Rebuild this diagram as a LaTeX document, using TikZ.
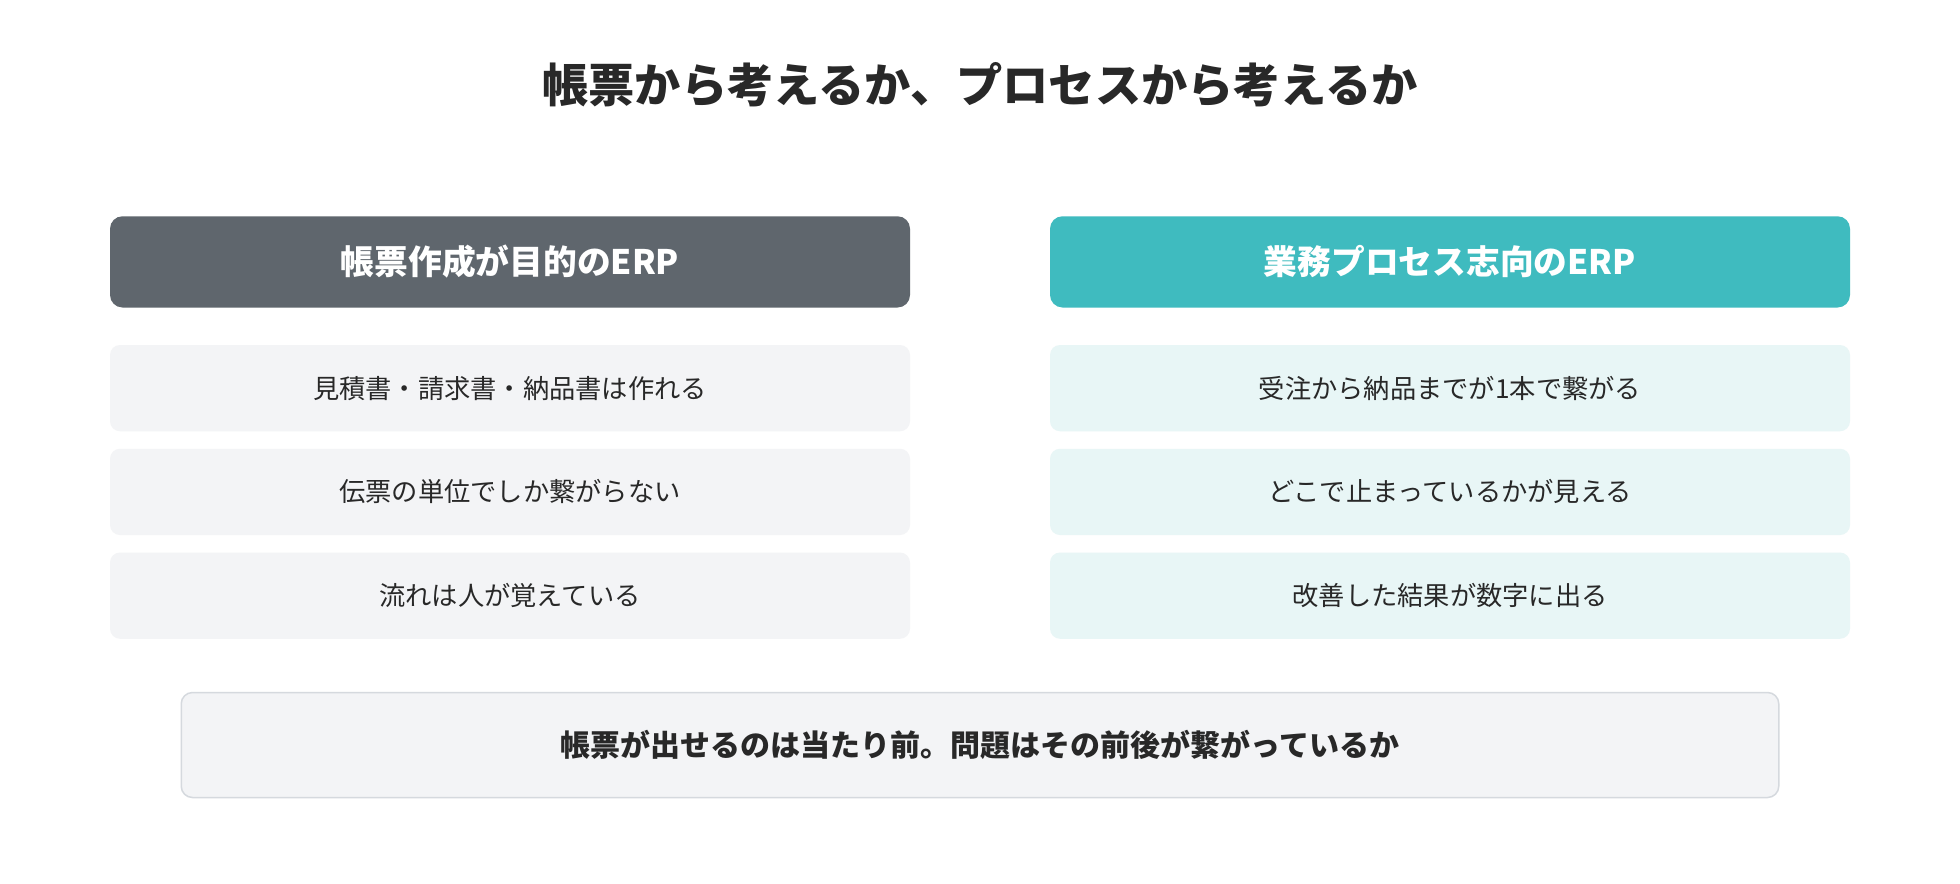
\documentclass[tikz,border=0pt]{standalone}
\usepackage{fontspec}
\setmainfont{Noto Sans CJK JP}
\definecolor{hdgray}{RGB}{95, 102, 109}
\definecolor{hdteal}{RGB}{63, 187, 191}
\definecolor{rowgray}{RGB}{243, 244, 246}
\definecolor{rowteal}{RGB}{232, 246, 246}
\definecolor{edgegray}{RGB}{213, 217, 222}
\definecolor{txt}{RGB}{40, 40, 40}
\begin{document}
\begin{tikzpicture}[x=1pt, y=-1pt,
    head/.style={rounded corners=10pt, minimum width=640pt, minimum height=73pt, text=white, font=\fontsize{27}{32}\selectfont\bfseries},
    row/.style={rounded corners=8pt, minimum width=640pt, minimum height=69pt, text=txt, font=\fontsize{21}{26}\selectfont}]
                    \useasboundingbox[fill=white] (0,0) rectangle (1568,707);
                    \node[text=txt, font=\fontsize{37}{44}\selectfont\bfseries] (title) at (784,68) {帳票から考えるか、プロセスから考えるか};
                    
                    \node[head, fill=hdgray] (L) at (408,209.5) {帳票作成が目的のERP};
                    \node[head, fill=hdteal] (R) at (1160,209.5) {業務プロセス志向のERP};
                    
                    \node[row, fill=rowgray] (L1) at (408,310.5) {見積書・請求書・納品書は作れる};
                    \node[row, fill=rowgray] (L2) at (408,393.5) {伝票の単位でしか繋がらない};
                    \node[row, fill=rowgray] (L3) at (408,476.5) {流れは人が覚えている};
                    \node[row, fill=rowteal] (R1) at (1160,310.5) {受注から納品までが1本で繋がる};
                    \node[row, fill=rowteal] (R2) at (1160,393.5) {どこで止まっているかが見える};
                    \node[row, fill=rowteal] (R3) at (1160,476.5) {改善した結果が数字に出る};
                    
                    \node[draw=edgegray, line width=1.2pt, fill=rowgray, rounded corners=9pt, minimum width=1278pt, minimum height=84pt, text=txt, font=\fontsize{24}{30}\selectfont\bfseries] (note) at (784,596) {帳票が出せるのは当たり前。問題はその前後が繋がっているか};
                \end{tikzpicture}
\end{document}
